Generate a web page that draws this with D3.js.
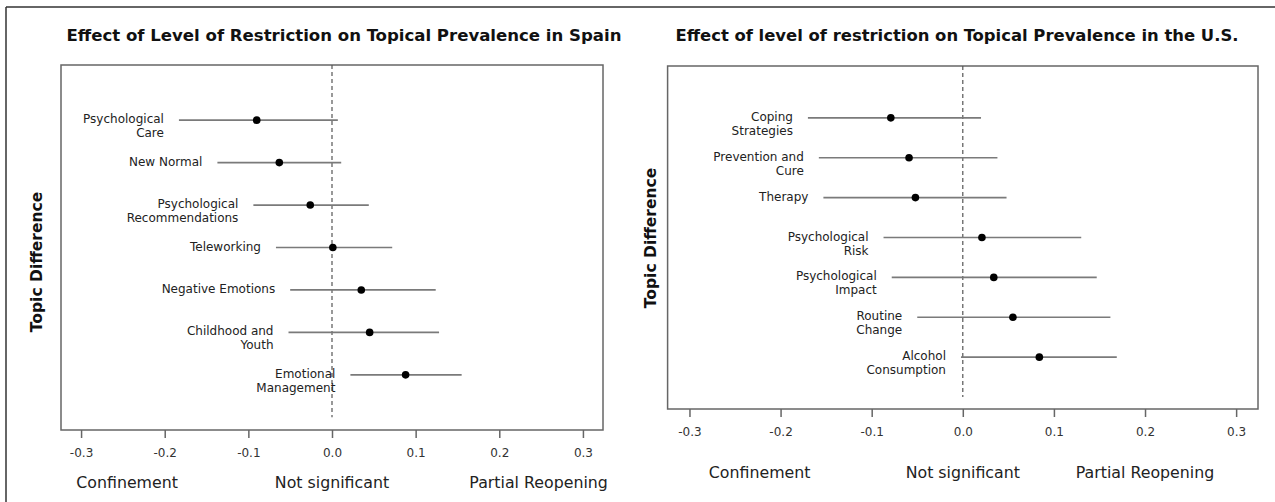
<!DOCTYPE html>
<html><head><meta charset="utf-8">
<script src="https://cdn.jsdelivr.net/npm/d3@7"></script>
<style>body{margin:0;background:#fff}svg{display:block}</style>
</head><body>
<svg id="c" width="1275" height="502"></svg>
<script>
// ---- data ----
const spainTopics = [["Psychological","Care"],["New Normal"],["Psychological","Recommendations"],["Teleworking"],["Negative Emotions"],["Childhood and","Youth"],["Emotional","Management"]];
const spainEstimate = [-0.090,-0.063,-0.026,0.001,0.035,0.045,0.088];
const spainLower    = [-0.183,-0.137,-0.094,-0.067,-0.050,-0.052,0.022];
const spainUpper    = [0.007,0.011,0.044,0.072,0.124,0.128,0.155];

const usTopics = [["Coping","Strategies"],["Prevention and","Cure"],["Therapy"],["Psychological","Risk"],["Psychological","Impact"],["Routine","Change"],["Alcohol","Consumption"]];
const usEstimate = [-0.079,-0.059,-0.052,0.021,0.034,0.055,0.084];
const usLower    = [-0.170,-0.158,-0.153,-0.087,-0.078,-0.050,-0.002];
const usUpper    = [0.020,0.038,0.048,0.130,0.147,0.162,0.169];

const tickValues = [-0.3,-0.2,-0.1,0.0,0.1,0.2,0.3];
const tickLabels = ["-0.3","-0.2","-0.1","0.0","0.1","0.2","0.3"];
const regionLabels = ["Confinement","Not significant","Partial Reopening"];
const spainRegionAt = [-0.245,0,0.247];
const usRegionAt = [-0.223,0,0.2];
const titles = ["Effect of Level of Restriction on Topical Prevalence in Spain","Effect of level of restriction on Topical Prevalence in the U.S."];
const yTitle = "Topic Difference";

// ---- drawing ----
const svg = d3.select("#c");
const FONT = "'DejaVu Sans', Verdana, sans-serif";
const TFONT = "'DejaVu Sans Condensed', 'DejaVu Sans', sans-serif";

// outer frame (top + left)
svg.append("line").attr("x1",6).attr("x2",1275).attr("y1",7).attr("y2",7).attr("stroke","#333").attr("stroke-width",1.5);
svg.append("line").attr("x1",6).attr("x2",6).attr("y1",7).attr("y2",502).attr("stroke","#333").attr("stroke-width",1.5);

function panel(cfg){
  const g = svg.append("g");
  const x = d3.scaleLinear().domain([-0.324,0.324]).range([cfg.left,cfg.right]);
  const y = d3.scaleLinear().domain([-1.3,7.3]).range([cfg.top,cfg.bottom]);

  // title
  g.append("text").attr("x",cfg.titleX).attr("y",41).attr("text-anchor","middle")
    .attr("font-family",TFONT).attr("font-weight","bold").attr("font-size",16)
    .attr("textLength",cfg.titleW).attr("lengthAdjust","spacingAndGlyphs")
    .attr("fill","#111").text(cfg.title);

  // box
  g.append("rect").attr("x",cfg.left).attr("y",cfg.top).attr("width",cfg.right-cfg.left).attr("height",cfg.bottom-cfg.top)
    .attr("fill","none").attr("stroke","#666").attr("stroke-width",1.5);

  // x axis ticks
  const ax = d3.axisBottom(x).tickValues(tickValues).tickSize(8).tickPadding(10)
    .tickFormat((d,i)=>tickLabels[i]);
  const axg = g.append("g").attr("transform",`translate(0,${cfg.bottom})`).call(ax);
  axg.select(".domain").remove();
  axg.selectAll(".tick line").attr("stroke","#666").attr("stroke-width",1.5);
  axg.selectAll(".tick text").attr("font-family",FONT).attr("font-size",12).attr("fill","#333");

  // region labels
  g.selectAll(".reg").data(regionLabels).join("text")
    .attr("x",(d,i)=>x(cfg.regionAt[i])).attr("y",cfg.regionY).attr("text-anchor","middle")
    .attr("font-family",FONT).attr("font-size",15.8).attr("fill","#222").text(d=>d);

  // y title
  g.append("text").attr("transform",`translate(${cfg.yTitleX},${cfg.yTitleY}) rotate(-90)`)
    .attr("text-anchor","middle").attr("font-family",FONT).attr("font-weight","bold").attr("font-size",15.5)
    .attr("fill","#111").text(yTitle);

  // zero line
  g.append("line").attr("x1",x(0)).attr("x2",x(0)).attr("y1",cfg.top).attr("y2",y(7))
    .attr("stroke","#555").attr("stroke-width",1.2).attr("stroke-dasharray","4,3");

  const idx = d3.range(cfg.est.length);
  // intervals
  g.selectAll(".ci").data(idx).join("line")
    .attr("x1",i=>x(cfg.lo[i])).attr("x2",i=>x(cfg.hi[i]))
    .attr("y1",i=>y(i)).attr("y2",i=>y(i)).attr("stroke","#7a7a7a").attr("stroke-width",1.7);
  // points
  g.selectAll(".pt").data(idx).join("circle")
    .attr("cx",i=>x(cfg.est[i])).attr("cy",i=>y(i)).attr("r",3.8).attr("fill","#000");
  // labels
  idx.forEach(i=>{
    const t = g.append("text").attr("text-anchor","end").attr("font-family",FONT).attr("font-size",12).attr("fill","#222");
    cfg.labels[i].forEach((line,k)=>{
      t.append("tspan").attr("x",x(cfg.lo[i])-15).attr("y",y(i)+3+k*14).text(line);
    });
  });
}

panel({left:61,right:603,top:65,bottom:430,title:titles[0],titleX:344,titleW:555,
  est:spainEstimate,lo:spainLower,hi:spainUpper,labels:spainTopics,
  regionAt:spainRegionAt,regionY:488,yTitleX:42,yTitleY:262});
panel({left:667.6,right:1258,top:66,bottom:409,title:titles[1],titleX:957,titleW:563,
  est:usEstimate,lo:usLower,hi:usUpper,labels:usTopics,
  regionAt:usRegionAt,regionY:478,yTitleX:656,yTitleY:238});
</script>
</body></html>
